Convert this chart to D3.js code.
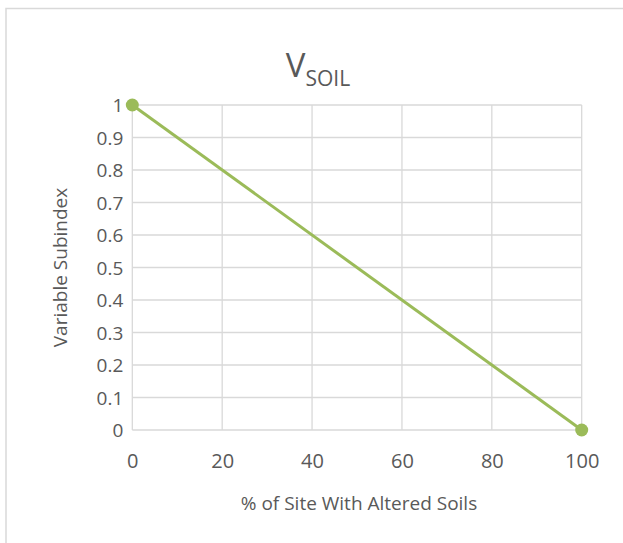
<!DOCTYPE html>
<html>
<head>
<meta charset="utf-8">
<script src="https://cdn.jsdelivr.net/npm/d3@7"></script>
<style>
  html, body { margin: 0; padding: 0; background: #fff; }
  svg { display: block; }
  text { font-family: "Open Sans", sans-serif; fill: #595959; }
</style>
</head>
<body>
<script>
const xValues = [0, 100];
const yValues = [1, 0];
const xTicks = [0, 20, 40, 60, 80, 100];
const yTicks = [0, 0.1, 0.2, 0.3, 0.4, 0.5, 0.6, 0.7, 0.8, 0.9, 1];
const titleMain = "V";
const titleSub = "SOIL";
const xTitle = "% of Site With Altered Soils";
const yTitle = "Variable Subindex";

const W = 623, H = 543;
const svg = d3.select("body").append("svg").attr("width", W).attr("height", H);

// chart border
svg.append("rect").attr("x", 6).attr("y", 8.5).attr("width", 640).attr("height", 560)
  .attr("fill", "none").attr("stroke", "#d9d9d9").attr("stroke-width", 1.5);

const x = d3.scaleLinear().domain([0, 100]).range([132.3, 581.7]);
const y = d3.scaleLinear().domain([0, 1]).range([430, 105]);

// gridlines
const g = svg.append("g");
g.selectAll("line.h").data(yTicks).join("line")
  .attr("x1", x(0)).attr("x2", x(100))
  .attr("y1", d => y(d)).attr("y2", d => y(d))
  .attr("stroke", "#d9d9d9").attr("stroke-width", 1.3);
g.selectAll("line.v").data(xTicks).join("line")
  .attr("y1", y(0)).attr("y2", y(1))
  .attr("x1", d => x(d)).attr("x2", d => x(d))
  .attr("stroke", "#d9d9d9").attr("stroke-width", 1.3);

// axes tick labels via d3 axes
const xAxis = d3.axisBottom(x).tickValues(xTicks).tickSize(0).tickPadding(0).tickFormat(d3.format("d"));
const xg = svg.append("g").attr("transform", `translate(0,${y(0)})`).call(xAxis);
xg.select(".domain").remove();
xg.selectAll("text").attr("y", 24).attr("dy", "0.71em").style("font-size", "20px")
  .style("font-family", '"Open Sans", sans-serif').attr("fill", "#595959");

const yAxis = d3.axisLeft(y).tickValues(yTicks).tickSize(0).tickPadding(0).tickFormat(d => d3.format("")(d));
const yg = svg.append("g").attr("transform", `translate(${x(0)},0)`).call(yAxis);
yg.select(".domain").remove();
yg.selectAll("text").attr("x", -9).attr("dy", "0.35em").style("font-size", "19px")
  .style("font-family", '"Open Sans", sans-serif').attr("fill", "#595959");

// series line
const data = xValues.map((v, i) => ({x: v, y: yValues[i]}));
svg.append("path").datum(data)
  .attr("d", d3.line().x(d => x(d.x)).y(d => y(d.y)))
  .attr("fill", "none").attr("stroke", "#9bbb59").attr("stroke-width", 3);
svg.selectAll("circle.pt").data(data).join("circle")
  .attr("cx", d => x(d.x)).attr("cy", d => y(d.y)).attr("r", 6.5)
  .attr("fill", "#9bbb59");

// title
const t = svg.append("text").attr("x", 318).attr("y", 77).attr("text-anchor", "middle");
t.append("tspan").style("font-size", "33px").text(titleMain);
t.append("tspan").style("font-size", "21px").attr("dy", 9).text(titleSub);

// axis titles
svg.append("text").attr("x", 359).attr("y", 510).attr("text-anchor", "middle")
  .style("font-size", "19px").text(xTitle);
svg.append("text").attr("transform", `translate(67,${y(0.5)}) rotate(-90)`)
  .attr("text-anchor", "middle").style("font-size", "19px").text(yTitle);
</script>
</body>
</html>
